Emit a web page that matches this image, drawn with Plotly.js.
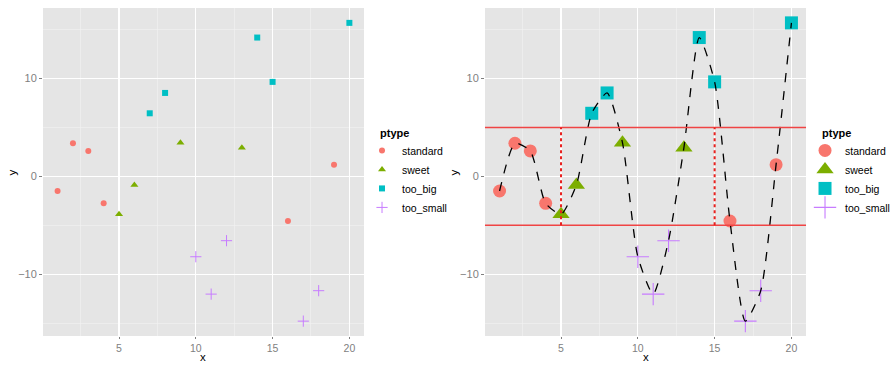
<!DOCTYPE html>
<html><head><meta charset="utf-8">
<script src="https://cdn.plot.ly/plotly-3.0.1.min.js"></script>
<style>html,body{margin:0;padding:0;background:#fff}#chart{width:891px;height:365px}</style>
</head><body><div id="chart"></div>
<script>
const xs = [1,2,3,4,5,6,7,8,9,10,11,12,13,14,15,16,17,18,19,20];
const ys = [-1.5,3.38,2.59,-2.76,-3.89,-0.89,6.44,8.52,3.44,-8.22,-12.04,-6.58,2.93,14.18,9.65,-4.57,-14.8,-11.69,1.19,15.68];
const ptype = ['standard','standard','standard','standard','sweet','sweet','too_big','too_big','sweet','too_small','too_small','too_small','sweet','too_big','too_big','standard','too_small','too_small','standard','too_big'];
const categories = ['standard','sweet','too_big','too_small'];
const colors = ['#F8766D','#7CAE00','#00BFC4','#C77CFF'];
const symbols = ['circle','triangle-up','square','cross-thin-open'];
const hlines = [5,-5];
const vlines = [5,15];
const xTickVals = [5,10,15,20];
const yTickVals = [-10,0,10];

const smallSize = [6,7,6,8];
const bigSize = [13,15,13,16];
const FONT = 'Liberation Sans, Arial, sans-serif';

const traces = [];
categories.forEach((c,i)=>{
  const px=[], py=[];
  xs.forEach((x,j)=>{ if(ptype[j]===c){px.push(x);py.push(ys[j]);} });
  const isCross = symbols[i]==='cross-thin-open';
  traces.push({x:px,y:py,type:'scatter',mode:'markers',name:c,xaxis:'x',yaxis:'y',legend:'legend',
    marker:{color:colors[i],symbol:symbols[i],size:smallSize[i],line:{width:isCross?1:0,color:colors[i]}}});
});
categories.forEach((c,i)=>{
  const px=[], py=[];
  xs.forEach((x,j)=>{ if(ptype[j]===c){px.push(x);py.push(ys[j]);} });
  const isCross = symbols[i]==='cross-thin-open';
  traces.push({x:px,y:py,type:'scatter',mode:'markers',name:c,xaxis:'x2',yaxis:'y2',legend:'legend2',
    marker:{color:colors[i],symbol:symbols[i],size:bigSize[i],line:{width:isCross?1.1:0,color:colors[i]}}});
});
traces.push({x:xs,y:ys,type:'scatter',mode:'lines',xaxis:'x2',yaxis:'y2',showlegend:false,
  line:{color:'#000',dash:'dash',width:1.3,shape:'spline',smoothing:0.6},hoverinfo:'skip'});

const shapes = [];
hlines.forEach(h=>shapes.push({type:'line',xref:'x2 domain',yref:'y2',x0:0,x1:1,y0:h,y1:h,line:{color:'#F04444',width:1.5},layer:'above'}));
vlines.forEach(v=>shapes.push({type:'line',xref:'x2',yref:'y2',x0:v,x1:v,y0:hlines[1],y1:hlines[0],line:{color:'#E8201E',width:2,dash:'dot'},layer:'above'}));

function xax(domain,anchor){
  return {domain:domain,anchor:anchor,range:[0.05,20.95],tickvals:xTickVals,showline:false,zeroline:false,automargin:false,
    gridcolor:'#FFFFFF',gridwidth:1.3,ticks:'outside',ticklen:2,tickcolor:'#7F7F7F',
    tickfont:{family:FONT,size:10.5,color:'#7F7F7F'},
    minor:{tickvals:[2.5,7.5,12.5,17.5],showgrid:true,gridcolor:'#F2F2F2',gridwidth:0.6,ticks:''}};
}
function yax(anchor){
  return {domain:[0,1],anchor:anchor,range:[-16.32,17.2],tickvals:yTickVals,showline:false,zeroline:false,automargin:false,
    gridcolor:'#FFFFFF',gridwidth:1.3,ticks:'outside',ticklen:3,tickcolor:'#7F7F7F',
    tickfont:{family:FONT,size:11,color:'#7F7F7F'},
    minor:{tickvals:[-15,-5,5,15],showgrid:true,gridcolor:'#F2F2F2',gridwidth:0.6,ticks:''}};
}
function leg(x){
  return {x:x,y:0.61,xanchor:'left',yanchor:'top',bgcolor:'rgba(0,0,0,0)',
    font:{family:FONT,size:10.5,color:'#000'},tracegroupgap:0,itemsizing:'trace',itemwidth:30};
}
function axTitle(text,x,y,angle,yanchor){
  return {text:text,xref:'paper',yref:'paper',x:x,y:y,showarrow:false,textangle:angle,
    font:{family:FONT,size:11.5,color:'#000'},xanchor:'center',yanchor:yanchor||'middle'};
}
function legTitle(x){
  return {text:'<b>ptype</b>',xref:'paper',yref:'paper',x:x,y:0.62,showarrow:false,xanchor:'left',yanchor:'middle',
    font:{family:FONT,size:11,color:'#000'}};
}
const yMid = 0.5;
const layout = {
  width:891,height:365,margin:{l:43,r:0,t:8,b:29,autoexpand:false},
  paper_bgcolor:'#FFFFFF',plot_bgcolor:'#E5E5E5',
  xaxis:xax([0,0.3785],'y'),yaxis:yax('x'),
  xaxis2:xax([0.5212,0.8998],'y2'),yaxis2:yax('x2'),
  legend:leg(0.3762),legend2:leg(0.8986),
  annotations:[
    axTitle('x',0.3785/2,-0.0884,0,'bottom'), axTitle('x',(0.5212+0.8998)/2,-0.0884,0,'bottom'),
    axTitle('y',-0.036,yMid,-90), axTitle('y',0.5212-0.036,yMid,-90),
    legTitle((378-43)/848), legTitle((820-43)/848)
  ],
  shapes:shapes,showlegend:true
};
Plotly.newPlot('chart',traces,layout,{displayModeBar:false,staticPlot:true});
</script></body></html>
